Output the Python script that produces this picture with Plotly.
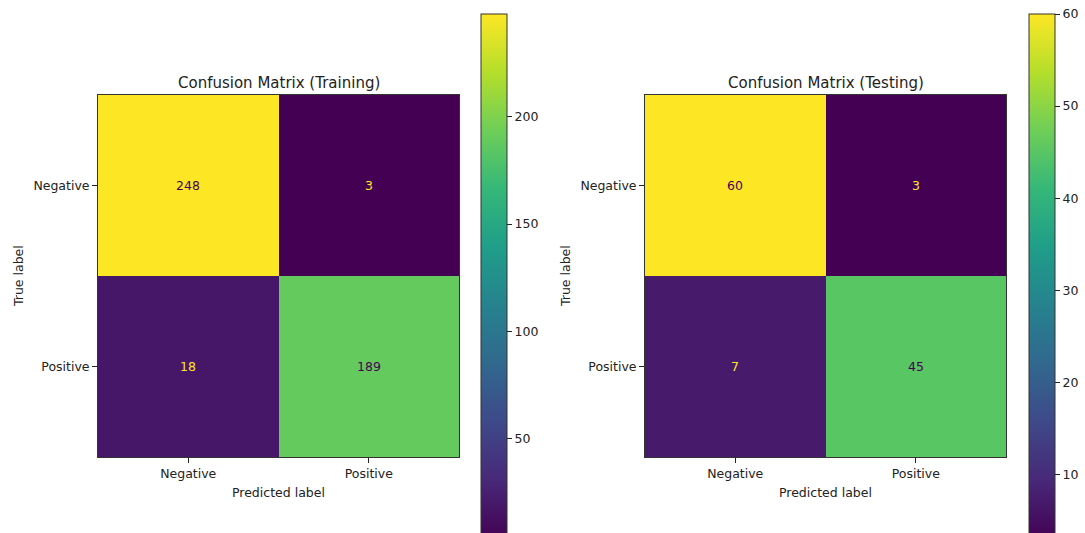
import plotly.graph_objects as go
import plotly.colors as pc

W, H = 1085, 533

# Class labels and confusion-matrix counts (rows = true, cols = predicted)
labels = ["Negative", "Positive"]
train_counts = [[248, 3], [18, 189]]
test_counts = [[60, 3], [7, 45]]
train_ticks = [50, 100, 150, 200]
test_ticks = [10, 20, 30, 40, 50, 60]

FONT = "DejaVu Sans"
INK = "#222222"


def px_x(p):
    return p / W


def px_y(p):
    return 1 - p / H


viridis = pc.sequential.Viridis
low_col, high_col = viridis[0], viridis[-1]

fig = go.Figure()

panels = [
    dict(counts=train_counts, ticks=train_ticks, title="Confusion Matrix (Training)",
         xa="x", ya="y", xdom=(98, 459), cbx=481),
    dict(counts=test_counts, ticks=test_ticks, title="Confusion Matrix (Testing)",
         xa="x2", ya="y2", xdom=(645, 1006), cbx=1029),
]
top, bottom = 95, 457

for i, p in enumerate(panels):
    z = p["counts"]
    flat = [v for row in z for v in row]
    zmin, zmax = min(flat), max(flat)
    fig.add_trace(go.Heatmap(
        z=z, x=labels, y=labels, xaxis=p["xa"], yaxis=p["ya"],
        colorscale="Viridis", zmin=zmin, zmax=zmax, hoverinfo="z",
        colorbar=dict(
            x=px_x(p["cbx"]), xanchor="left", xpad=0, ypad=0,
            y=px_y(14), yanchor="top", lenmode="fraction", len=(539 - 14) / H,
            thickness=26, outlinewidth=1, outlinecolor="#333333",
            tickvals=p["ticks"], ticks="outside", ticklen=5, tickcolor=INK,
            tickfont=dict(family=FONT, size=12.5, color=INK),
        ),
    ))
    # cell value labels, coloured for contrast against the cell
    thresh = (zmin + zmax) / 2
    for r, row in enumerate(z):
        for c, v in enumerate(row):
            fig.add_annotation(
                x=labels[c], y=labels[r], xref=p["xa"], yref=p["ya"],
                text=str(v), showarrow=False,
                font=dict(family=FONT, size=12.5, color=low_col if v > thresh else high_col),
            )
    axis_common = dict(
        showline=True, mirror=True, linecolor="#333333", linewidth=1,
        ticks="outside", ticklen=5, tickcolor=INK, showgrid=False, zeroline=False,
        tickfont=dict(family=FONT, size=12.5, color=INK), automargin=False,
    )
    xkey = "xaxis" if i == 0 else "xaxis2"
    ykey = "yaxis" if i == 0 else "yaxis2"
    fig.update_layout({
        xkey: dict(domain=[px_x(p["xdom"][0]), px_x(p["xdom"][1])],
                   anchor=p["ya"], **axis_common),
        ykey: dict(domain=[px_y(bottom), px_y(top)], anchor=p["xa"],
                   autorange="reversed", **axis_common),
    })
    cx = (p["xdom"][0] + p["xdom"][1]) / 2
    text_common = dict(xref="paper", yref="paper", xanchor="center", yanchor="middle",
                       showarrow=False)
    fig.add_annotation(x=px_x(cx), y=px_y(83), text=p["title"],
                       font=dict(family=FONT, size=15, color=INK), **text_common)
    fig.add_annotation(x=px_x(cx), y=px_y(492), text="Predicted label",
                       font=dict(family=FONT, size=12.5, color=INK), **text_common)
    fig.add_annotation(x=px_x(p["xdom"][0] - 80), y=px_y((top + bottom) / 2),
                       text="True label", textangle=-90,
                       font=dict(family=FONT, size=12.5, color=INK), **text_common)

fig.update_layout(
    width=W, height=H, margin=dict(l=0, r=0, t=0, b=0, autoexpand=False),
    paper_bgcolor="white", plot_bgcolor="white", showlegend=False,
)

fig.write_html("out.html")
